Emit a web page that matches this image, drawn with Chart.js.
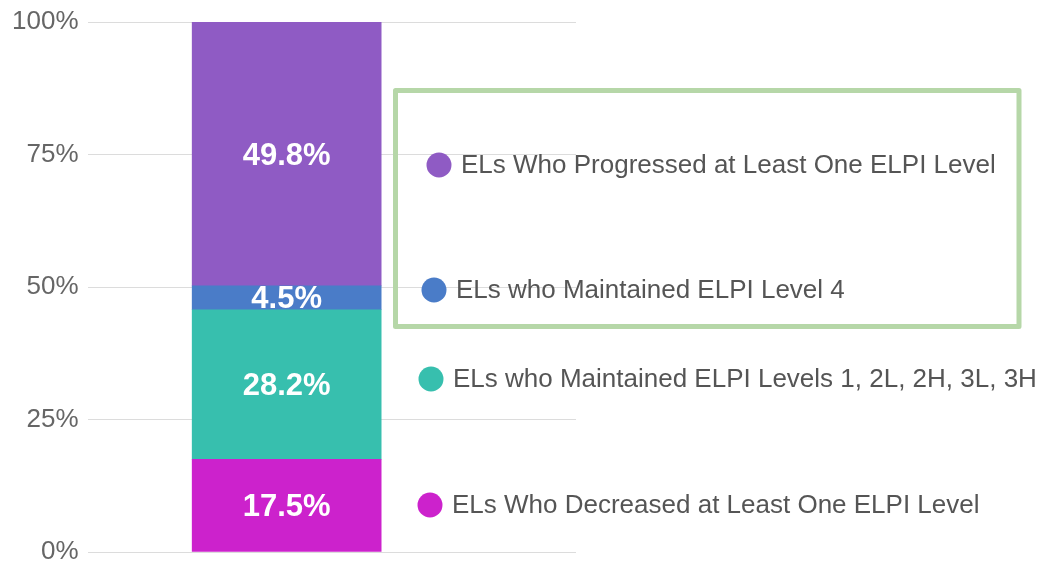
<!DOCTYPE html>
<html>
<head>
<meta charset="utf-8">
<script src="https://cdn.jsdelivr.net/npm/chart.js@4.4.1/dist/chart.umd.min.js"></script>
<style>
  html, body { margin: 0; padding: 0; background: #fff; }
  #wrap { width: 1049px; height: 563px; position: relative; }
</style>
</head>
<body>
<div id="wrap"><canvas id="chart"></canvas></div>
<script>
// data, bottom segment first
const seriesNames = [
  "ELs Who Decreased at Least One ELPI Level",
  "ELs who Maintained ELPI Levels 1, 2L, 2H, 3L, 3H",
  "ELs who Maintained ELPI Level 4",
  "ELs Who Progressed at Least One ELPI Level",
];
const seriesValues = [17.5, 28.2, 4.5, 49.8];
const seriesColors = ["#cc22cc", "#37bfae", "#4a7cc8", "#8f5bc4"];
const yTicks = [0, 25, 50, 75, 100];

const FONT = "'Liberation Sans', Arial, sans-serif";

// where the side labels sit (layout only)
const LEGEND_POS = [
  { x: 430, y: 505 },
  { x: 431, y: 379 },
  { x: 434, y: 290 },
  { x: 439, y: 165 },
];
const BOX = { left: 395.5, top: 90.5, right: 1019, bottom: 326.5 };

const barLabels = {
  id: "barLabels",
  afterDatasetsDraw(chart) {
    const ctx = chart.ctx;
    ctx.save();
    ctx.fillStyle = "#fff";
    ctx.font = `bold 31px ${FONT}`;
    ctx.textAlign = "center";
    ctx.textBaseline = "middle";
    chart.data.datasets.forEach((ds, i) => {
      const bar = chart.getDatasetMeta(i).data[0];
      if (!bar) return;
      const y = (bar.y + bar.base) / 2;
      ctx.fillText(ds.data[0].y.toFixed(1) + "%", bar.x, y + 2);
    });
    ctx.restore();
  },
};

const sideLegend = {
  id: "sideLegend",
  afterDraw(chart) {
    const ctx = chart.ctx;
    ctx.save();
    ctx.font = `26px ${FONT}`;
    ctx.textBaseline = "middle";
    ctx.textAlign = "left";
    seriesNames.forEach((name, i) => {
      const p = LEGEND_POS[i];
      ctx.fillStyle = seriesColors[i];
      ctx.beginPath();
      ctx.arc(p.x, p.y, 12.5, 0, Math.PI * 2);
      ctx.fill();
      ctx.fillStyle = "#555";
      ctx.fillText(name, p.x + 22, p.y + 1);
    });
    ctx.strokeStyle = "#b6d7a8";
    ctx.lineWidth = 5;
    ctx.lineJoin = "round";
    ctx.strokeRect(BOX.left, BOX.top, BOX.right - BOX.left, BOX.bottom - BOX.top);
    ctx.restore();
  },
};

new Chart(document.getElementById("chart"), {
  type: "bar",
  data: {
    datasets: seriesNames.map((name, i) => ({
      label: name,
      data: [{ x: 0, y: seriesValues[i] }],
      backgroundColor: seriesColors[i],
      borderWidth: 0,
      barThickness: 189,
    })),
  },
  options: {
    responsive: true,
    maintainAspectRatio: false,
    animation: false,
    layout: { padding: { top: 22, right: 473, bottom: 11, left: 2 } },
    plugins: {
      legend: { display: false },
      tooltip: { enabled: false },
    },
    scales: {
      x: {
        type: "linear",
        stacked: true,
        offset: false,
        min: -1,
        max: 1.46,
        display: false,
      },
      y: {
        stacked: true,
        min: yTicks[0],
        max: yTicks[yTicks.length - 1],
        afterBuildTicks(scale) {
          scale.ticks = yTicks.map(v => ({ value: v }));
        },
        // let the layout padding alone decide top/bottom of the plot
        afterFit(scale) {
          scale.paddingTop = 0;
          scale.paddingBottom = 0;
        },
        border: { display: false },
        grid: { color: "#dcdcdc", drawTicks: false },
        ticks: {
          padding: 10,
          color: "#666",
          font: { family: FONT, size: 26 },
          callback: v => v + "%",
        },
      },
    },
  },
  plugins: [barLabels, sideLegend],
});
</script>
</body>
</html>
